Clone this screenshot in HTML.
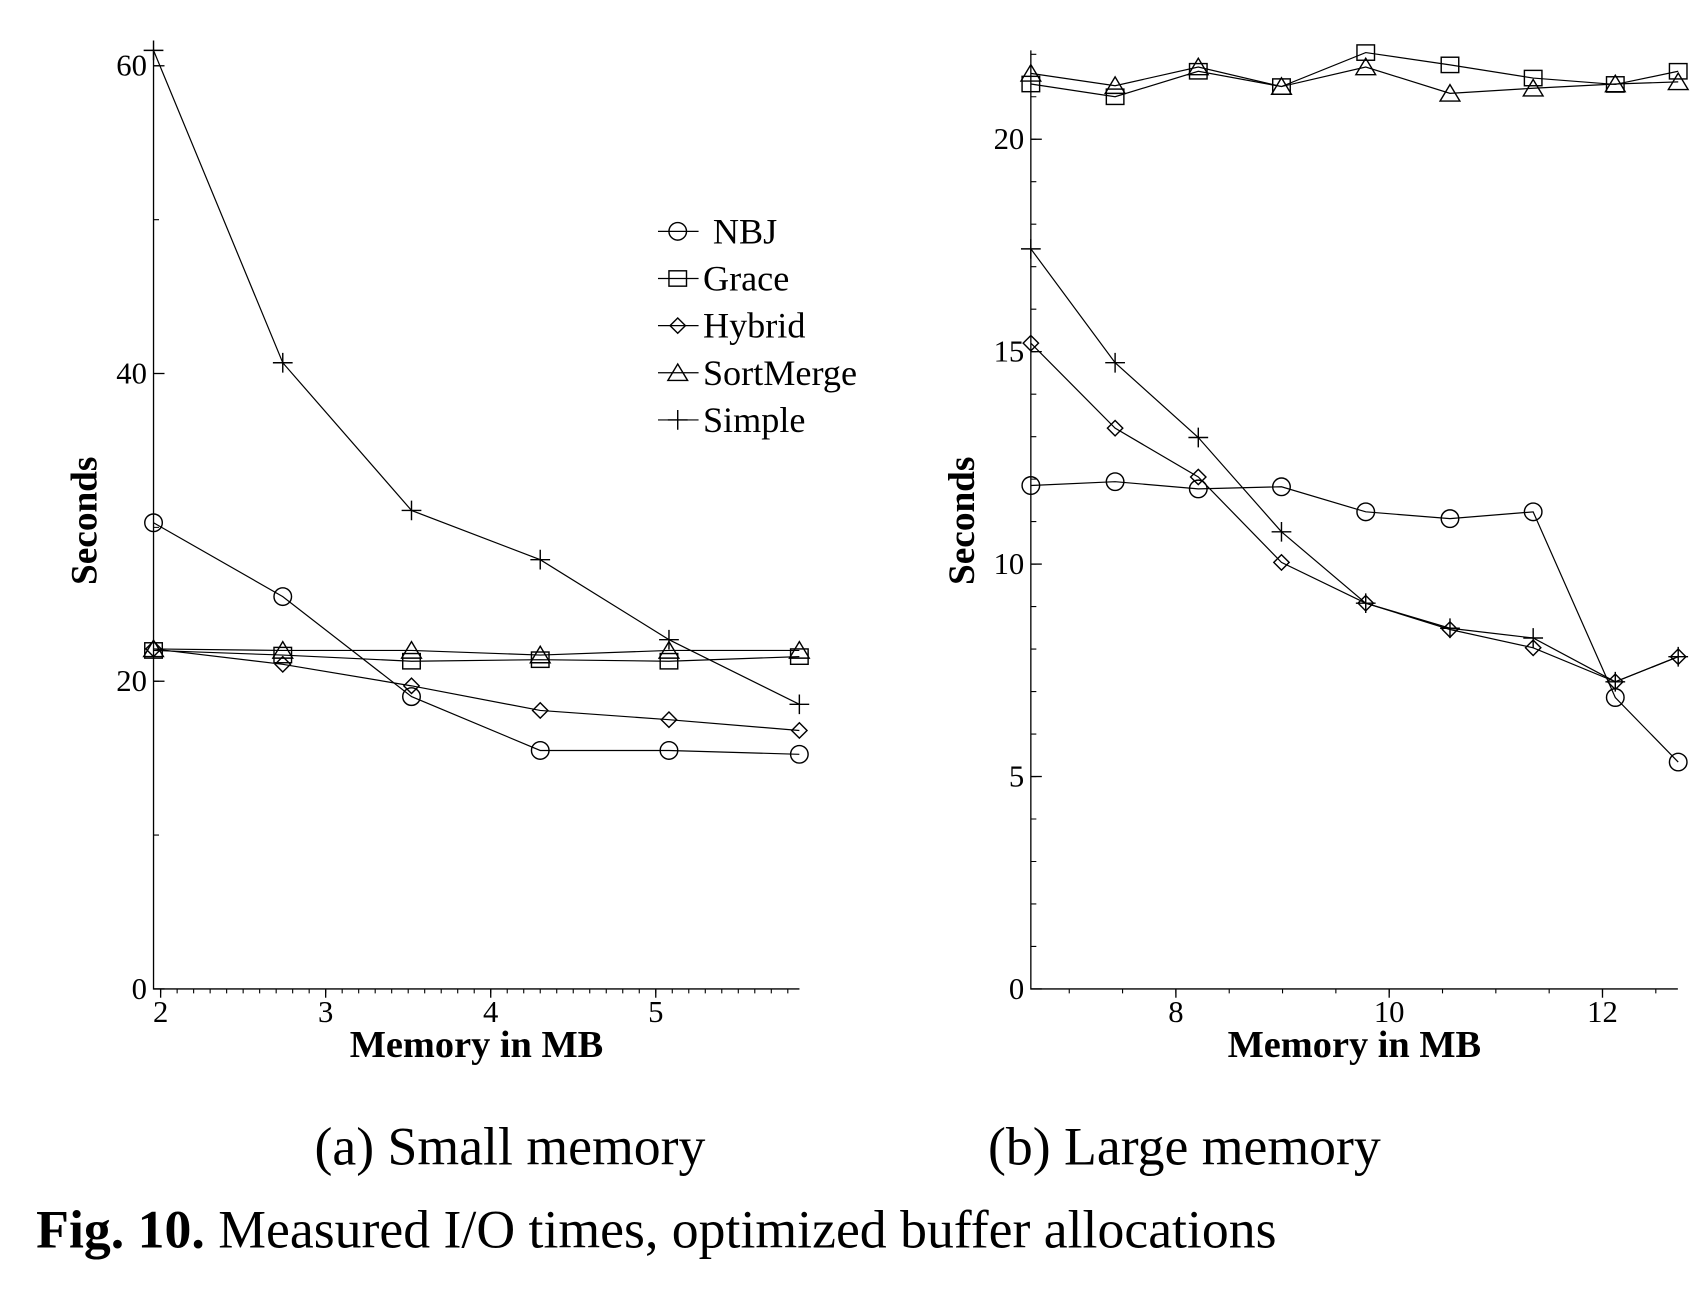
<!DOCTYPE html>
<html><head><meta charset="utf-8"><style>
html,body{margin:0;padding:0;background:#fff}
svg{display:block}
text{font-family:"Liberation Serif",serif;fill:#000}
</style></head><body>
<svg id="fig" width="1702" height="1308" viewBox="0 0 1552 1193" preserveAspectRatio="none" xmlns="http://www.w3.org/2000/svg">
<g id="chartA"></g>
<g id="chartB"></g>
<g id="legend"></g>
<text x="465" y="1062" font-size="49" text-anchor="middle">(a) Small memory</text>
<text x="1080" y="1062" font-size="49" text-anchor="middle">(b) Large memory</text>
<text x="33" y="1138" font-size="49"><tspan font-weight="bold">Fig. 10.</tspan> Measured I/O times, optimized buffer allocations</text>
</svg>
<script>
const seriesNames = ["NBJ","Grace","Hybrid","SortMerge","Simple"];
const markers = ["circle","square","diamond","triangle","plus"];
// Chart (a) small memory
const xA = [1.957, 2.74, 3.52, 4.30, 5.08, 5.87];
const nbjA = [30.3, 25.5, 19.0, 15.5, 15.5, 15.25];
const graceA = [22.0, 21.7, 21.3, 21.4, 21.3, 21.6];
const hybridA = [22.1, 21.1, 19.7, 18.1, 17.5, 16.8];
const sortA = [22.1, 22.0, 22.0, 21.7, 22.0, 22.0];
const simpleA = [61.0, 40.7, 31.1, 27.9, 22.7, 18.5];
const xTicksA = [2,3,4,5];
const yTicksA = [0,20,40,60];
// Chart (b) large memory
const xB = [6.64, 7.43, 8.21, 8.99, 9.78, 10.57, 11.35, 12.12, 12.71];
const nbjB = [11.85, 11.94, 11.77, 11.82, 11.23, 11.07, 11.23, 6.86, 5.34];
const graceB = [21.3, 21.0, 21.6, 21.24, 22.04, 21.75, 21.44, 21.29, 21.6];
const hybridB = [15.2, 13.2, 12.05, 10.04, 9.08, 8.46, 8.03, 7.23, 7.82];
const sortB = [21.55, 21.26, 21.7, 21.24, 21.7, 21.08, 21.2, 21.3, 21.35];
const simpleB = [17.42, 14.74, 12.98, 10.76, 9.08, 8.49, 8.26, 7.23, 7.82];
const xTicksB = [8,10,12];
const yTicksB = [0,5,10,15,20];

const NS = "http://www.w3.org/2000/svg";
function mk(parent, tag, attrs){
  const e = document.createElementNS(NS, tag);
  for (const k in attrs) e.setAttribute(k, attrs[k]);
  parent.appendChild(e); return e;
}
function marker(g, type, x, y){
  const st = {fill:"none", stroke:"#000", "stroke-width":1.3};
  let e;
  if (type==="circle") e = mk(g,"circle",Object.assign({cx:x,cy:y,r:8},st));
  else if (type==="square") e = mk(g,"rect",Object.assign({x:x-8,y:y-7,width:16,height:14},st));
  else if (type==="diamond") e = mk(g,"path",Object.assign({d:`M${x-7},${y}L${x},${y-7}L${x+7},${y}L${x},${y+7}Z`},st));
  else if (type==="triangle") e = mk(g,"path",Object.assign({d:`M${x-9},${y+7}L${x},${y-8}L${x+9},${y+7}Z`},st));
  else e = mk(g,"path",Object.assign({d:`M${x-9},${y}H${x+9}M${x},${y-9}V${y+9}`},st));
  
  
}
function drawChart(g, cfg){
  const sx = v => cfg.x0 + (v - cfg.xmin) * cfg.pxX;
  const sy = v => cfg.y0 - v * cfg.pxY;
  const ax = mk(g,"path",{d:`M${cfg.x0},${cfg.yTop}V${cfg.y0}H${cfg.x1}`,fill:"none",stroke:"#000","stroke-width":1.2});
  
  
  let d = "";
  for (let v = Math.ceil(cfg.xmin/cfg.xMinor)*cfg.xMinor; sx(v) <= cfg.x1+0.5; v += cfg.xMinor) d += `M${sx(v)},${cfg.y0}v4`;
  for (let v = cfg.yMinor; sy(v) >= cfg.yTop; v += cfg.yMinor) d += `M${cfg.x0},${sy(v)}h5`;
  const mt = mk(g,"path",{d:d,stroke:"#000","stroke-width":1});
  
  
  cfg.xTicks.forEach(v=>{
    mk(g,"path",{d:`M${sx(v)},${cfg.y0}v8`,stroke:"#000","stroke-width":1.2});
    const t = mk(g,"text",{x:sx(v),y:cfg.y0+30,"font-size":28,"text-anchor":"middle"});
    t.textContent = v;
    
    
  });
  cfg.yTicks.forEach(v=>{
    mk(g,"path",{d:`M${cfg.x0},${sy(v)}h10`,stroke:"#000","stroke-width":1.2});
    const t = mk(g,"text",{x:cfg.x0-6,y:sy(v)+9,"font-size":28,"text-anchor":"end"});
    t.textContent = v;
    
    
  });
  const xt = mk(g,"text",{x:(cfg.x0+cfg.x1)/2,y:cfg.y0+62,"font-size":35,"font-weight":"bold","text-anchor":"middle"});
  xt.textContent = "Memory in MB";
  
  
  const yt = mk(g,"text",{x:0,y:0,"font-size":34,"font-weight":"bold","text-anchor":"middle",transform:`translate(${cfg.x0-52},475) rotate(-90)`});
  yt.textContent = "Seconds";
  
  
  cfg.series.forEach((s,i)=>{
    const sg = mk(g,"g",{});
    
    
    const pts = s.map((v,j)=>`${sx(cfg.xs[j])},${sy(v)}`).join(" ");
    const pl = mk(sg,"polyline",{points:pts,fill:"none",stroke:"#000","stroke-width":1.1});
    
    
    s.forEach((v,j)=>marker(sg, markers[i], sx(cfg.xs[j]), sy(v)));
  });
}
drawChart(document.getElementById("chartA"), {
  x0:140, x1:729, y0:902, yTop:45, xmin:1.957, pxX:150.5, pxY:842/60,
  xMinor:0.1, yMinor:10, xTicks:xTicksA, yTicks:yTicksA, xs:xA,
  series:[nbjA, graceA, hybridA, sortA, simpleA]
});
drawChart(document.getElementById("chartB"), {
  x0:940, x1:1530, y0:902, yTop:46, xmin:6.64, pxX:97.25, pxY:775/20,
  xMinor:0.5, yMinor:1, xTicks:xTicksB, yTicks:yTicksB, xs:xB,
  series:[nbjB, graceB, hybridB, sortB, simpleB]
});
const lg = document.getElementById("legend");
seriesNames.forEach((n,i)=>{
  const y = 211 + i*43;
  const eg = mk(lg,"g",{});
  
  
  mk(eg,"path",{d:`M600,${y}H637`,stroke:"#000","stroke-width":1.1});
  marker(eg, markers[i], 618, y);
  const t = mk(eg,"text",{x:i===0?650:641,y:y+11,"font-size":33});
  t.textContent = n;
  
  
});
</script>
</body></html>
